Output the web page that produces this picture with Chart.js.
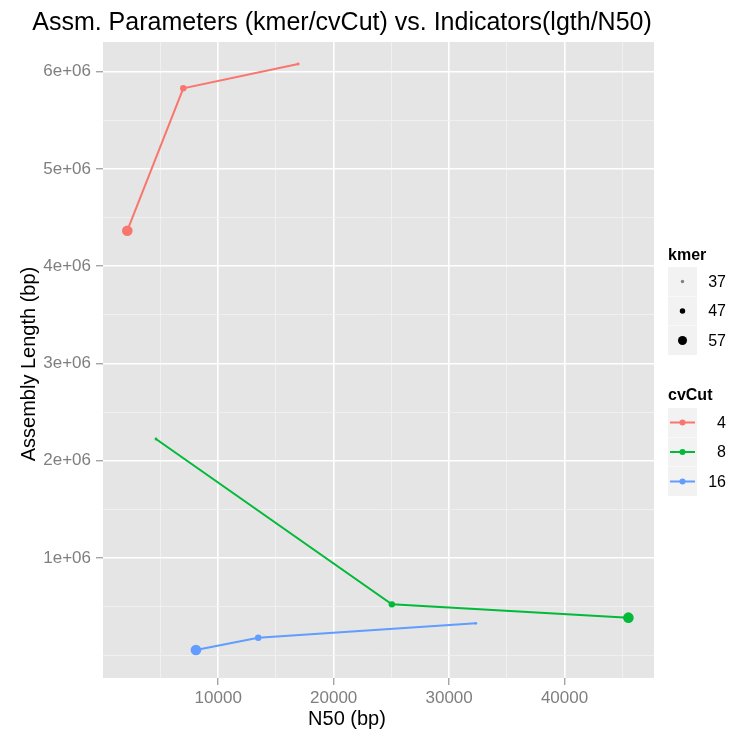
<!DOCTYPE html>
<html>
<head>
<meta charset="utf-8">
<script src="https://cdn.jsdelivr.net/npm/chart.js@4/dist/chart.umd.min.js"></script>
<style>
  html, body { margin: 0; padding: 0; background: #ffffff; }
  canvas { display: block; }
</style>
</head>
<body>
<canvas id="chart" width="729" height="732" style="width:729px;height:732px"></canvas>
<script>
// Assembly parameters: kmer sizes and coverage cut-offs
const kmerLevels = [37, 47, 57];
const cvCutLevels = ['4', '8', '16'];
const seriesColors = ['#F8766D', '#00BA38', '#619CFF'];

// N50 (bp) and assembly length (bp) per cvCut, listed for kmer 37, 47, 57
const n50Cv4 = [16926, 6970, 2121];
const lenCv4 = [6080000, 5830000, 4366000];
const n50Cv8 = [4606, 25039, 45532];
const lenCv8 = [2224000, 524000, 387000];
const n50Cv16 = [32312, 13463, 8069];
const lenCv16 = [329000, 181000, 54500];

// Axis breaks
const xMajorTicks = [10000, 20000, 30000, 40000];
const xMinorTicks = [5000, 15000, 25000, 35000, 45000];
const yMajorTicks = [1e6, 2e6, 3e6, 4e6, 5e6, 6e6];
const yMinorTicks = [0, 5e5, 1.5e6, 2.5e6, 3.5e6, 4.5e6, 5.5e6];

const titleText = 'Assm. Parameters (kmer/cvCut) vs. Indicators(lgth/N50)';
const xTitle = 'N50 (bp)';
const yTitle = 'Assembly Length (bp)';

// point radius for each kmer size
const kmerRadius = { 37: 1.4, 47: 3.2, 57: 5.3 };

const FONT = '"Liberation Sans", Arial, Helvetica, sans-serif';

// geom_line joins points in order of x
function toPoints(n50, len) {
  return kmerLevels
    .map((k, i) => ({ x: n50[i], y: len[i], k }))
    .sort((a, b) => a.x - b.x);
}

const seriesN50 = [n50Cv4, n50Cv8, n50Cv16];
const seriesLen = [lenCv4, lenCv8, lenCv16];

const datasets = cvCutLevels.map((cv, i) => ({
  label: cv,
  data: toPoints(seriesN50[i], seriesLen[i]),
  showLine: true,
  borderColor: seriesColors[i],
  borderWidth: 2,
  backgroundColor: seriesColors[i],
  pointBackgroundColor: seriesColors[i],
  pointBorderWidth: 0,
  pointRadius: ctx => kmerRadius[ctx.raw ? ctx.raw.k : 47],
  pointHoverRadius: ctx => kmerRadius[ctx.raw ? ctx.raw.k : 47],
  tension: 0
}));

function isMajor(list, v) {
  return list.some(m => Math.abs(m - v) < 1e-6);
}

const panelPlugin = {
  id: 'panel',
  beforeDraw(chart) {
    const { ctx, chartArea: a } = chart;
    ctx.save();
    ctx.fillStyle = '#ffffff';
    ctx.fillRect(0, 0, chart.width, chart.height);
    ctx.fillStyle = '#E5E5E5';
    ctx.fillRect(a.left, a.top, a.right - a.left, a.bottom - a.top);
    ctx.restore();
  },
  afterDraw(chart) {
    const { ctx } = chart;
    ctx.save();
    // plot title
    ctx.fillStyle = '#000000';
    ctx.font = '25px ' + FONT;
    ctx.textAlign = 'center';
    ctx.textBaseline = 'alphabetic';
    ctx.fillText(titleText, 342, 30);

    // axis titles
    ctx.font = '20px ' + FONT;
    ctx.fillText(xTitle, 347, 725);
    ctx.save();
    ctx.translate(35, 364);
    ctx.rotate(-Math.PI / 2);
    ctx.fillText(yTitle, 0, 0);
    ctx.restore();

    // size legend (kmer)
    const keyX = 668, keyW = 29, keyH = 29;
    ctx.textAlign = 'left';
    ctx.font = 'bold 16px ' + FONT;
    ctx.fillText('kmer', keyX, 260);
    let y0 = 267;
    kmerLevels.forEach((k, i) => {
      const top = y0 + i * (keyH + 0.5);
      ctx.fillStyle = '#F2F2F2';
      ctx.fillRect(keyX, top, keyW, keyH);
      ctx.fillStyle = k === 37 ? '#808080' : '#000000';
      ctx.beginPath();
      ctx.arc(keyX + keyW / 2, top + keyH / 2, k === 37 ? 1.7 : kmerRadius[k] * 0.85, 0, Math.PI * 2);
      ctx.fill();
      ctx.fillStyle = '#000000';
      ctx.font = '16px ' + FONT;
      ctx.textAlign = 'right';
      ctx.textBaseline = 'middle';
      ctx.fillText(String(k), 726, top + keyH / 2 + 1);
      ctx.textAlign = 'left';
      ctx.textBaseline = 'alphabetic';
    });

    // colour legend (cvCut)
    ctx.font = 'bold 16px ' + FONT;
    ctx.fillStyle = '#000000';
    ctx.fillText('cvCut', keyX, 400);
    y0 = 408;
    cvCutLevels.forEach((cv, i) => {
      const top = y0 + i * (keyH + 0.5);
      const cy = top + keyH / 2;
      ctx.fillStyle = '#F2F2F2';
      ctx.fillRect(keyX, top, keyW, keyH);
      ctx.strokeStyle = seriesColors[i];
      ctx.lineWidth = 2;
      ctx.beginPath();
      ctx.moveTo(keyX + 2, cy);
      ctx.lineTo(keyX + keyW - 2, cy);
      ctx.stroke();
      ctx.fillStyle = seriesColors[i];
      ctx.beginPath();
      ctx.arc(keyX + keyW / 2, cy, 3, 0, Math.PI * 2);
      ctx.fill();
      ctx.fillStyle = '#000000';
      ctx.font = '16px ' + FONT;
      ctx.textAlign = 'right';
      ctx.textBaseline = 'middle';
      ctx.fillText(cv, 726, cy + 1);
      ctx.textAlign = 'left';
      ctx.textBaseline = 'alphabetic';
    });
    ctx.restore();
  }
};

new Chart(document.getElementById('chart'), {
  type: 'scatter',
  data: { datasets },
  plugins: [panelPlugin],
  options: {
    responsive: false,
    animation: false,
    devicePixelRatio: 1,
    layout: { padding: { top: 42, right: 75, left: 0, bottom: 0 }, autoPadding: false },
    plugins: {
      legend: { display: false },
      title: { display: false },
      tooltip: { enabled: false }
    },
    scales: {
      x: {
        type: 'linear',
        min: 17,
        max: 47749,
        afterBuildTicks(scale) {
          scale.ticks = [...xMajorTicks, ...xMinorTicks]
            .sort((a, b) => a - b)
            .map(v => ({ value: v }));
        },
        afterFit(scale) { scale.height = 54; },
        border: { display: false },
        grid: {
          color: ctx => isMajor(xMajorTicks, ctx.tick.value) ? '#FFFFFF' : '#F2F2F2',
          lineWidth: ctx => isMajor(xMajorTicks, ctx.tick.value) ? 1.6 : 0.8,
          tickColor: ctx => isMajor(xMajorTicks, ctx.tick.value) ? '#7F7F7F' : 'rgba(0,0,0,0)',
          tickLength: 7,
          tickWidth: 1
        },
        ticks: {
          autoSkip: false,
          maxRotation: 0,
          padding: 3,
          color: '#7F7F7F',
          font: { family: FONT, size: 17 },
          callback: v => isMajor(xMajorTicks, v) ? String(v) : ''
        }
      },
      y: {
        type: 'linear',
        min: -233400,
        max: 6306000,
        afterBuildTicks(scale) {
          scale.ticks = [...yMajorTicks, ...yMinorTicks]
            .sort((a, b) => a - b)
            .map(v => ({ value: v }));
        },
        afterFit(scale) { scale.width = 103; },
        border: { display: false },
        grid: {
          color: ctx => isMajor(yMajorTicks, ctx.tick.value) ? '#FFFFFF' : '#F2F2F2',
          lineWidth: ctx => isMajor(yMajorTicks, ctx.tick.value) ? 1.6 : 0.8,
          tickColor: ctx => isMajor(yMajorTicks, ctx.tick.value) ? '#7F7F7F' : 'rgba(0,0,0,0)',
          tickLength: 7,
          tickWidth: 1
        },
        ticks: {
          autoSkip: false,
          padding: 5,
          color: '#7F7F7F',
          font: { family: FONT, size: 17 },
          callback: v => isMajor(yMajorTicks, v) ? (v / 1e6) + 'e+06' : ''
        }
      }
    }
  }
});
</script>
</body>
</html>
